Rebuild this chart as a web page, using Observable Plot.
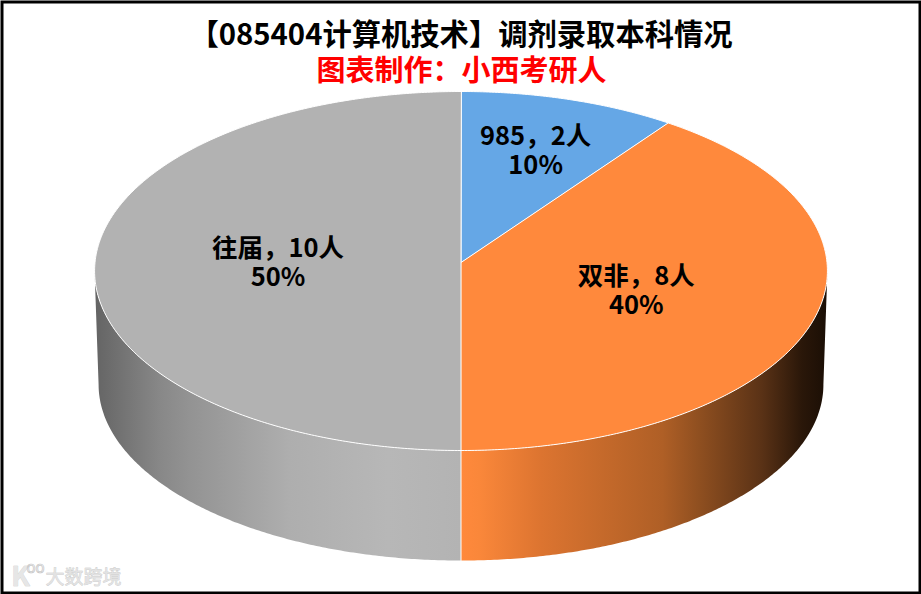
<!DOCTYPE html>
<html><head><meta charset="utf-8">
<script src="https://cdn.jsdelivr.net/npm/d3@7"></script>
<script src="https://cdn.jsdelivr.net/npm/@observablehq/plot@0.6"></script>
<style>html,body{margin:0;padding:0;background:#fff}svg{display:block}</style>
</head><body><div id="chart"></div>
<script>
const titleText = "【085404计算机技术】调剂录取本科情况";
const subtitleText = "图表制作\uFF1A小西考研人";
const categories = ["985", "双非", "往届"];
const counts = [2, 8, 10];
const percents = ["10%", "40%", "50%"];
const topColors = ["#65a7e6", "#ff893c", "#b2b2b2"];
const watermark = "大数跨境";

const W = 921, H = 594, FONT = '"Noto Sans CJK SC","Noto Sans",sans-serif';
const total = d3.sum(counts);
const k = -0.0474;
const TOP = {cx: 460.5, cy: 262, a: 366, b: 179.1};
const BOT = {cx: 460.5, cy: 375.7, a: 362, b: 175.6};
function proj(deg, f, e) {
  const t = deg * Math.PI / 180, u = f * Math.sin(t), v = -f * Math.cos(t), d = 1 + k * v;
  return {x: e.cx + e.a * u / d, y: e.cy + e.b * v / d};
}
function arc(a0, a1, e) {
  const n = Math.max(2, Math.ceil(Math.abs(a1 - a0) * 2)), p = [];
  for (let i = 0; i <= n; i++) p.push(proj(a0 + (a1 - a0) * i / n, 1, e));
  return p;
}
let acc = 0;
const slices = categories.map((c, i) => {
  const a0 = acc / total * 360; acc += counts[i];
  const a1 = acc / total * 360;
  return {c, a0, a1, mid: (a0 + a1) / 2, fill: topColors[i], count: counts[i], pct: percents[i]};
});
const labelReach = [0.68, 0.5, 0.5];
const labels = slices.map((s, i) => ({...proj(s.mid, labelReach[i], TOP), text: `${s.c}\uFF0C${s.count}人\n${s.pct}`}));
const SIL = 92.7;
const wallOrange = [...arc(SIL, 180, TOP), ...arc(180, SIL, BOT)];
const wallGray = [...arc(180, 360 - SIL, TOP), ...arc(360 - SIL, 180, BOT)];
const seam = [proj(180, 1, TOP), proj(180, 1, BOT)];

function stops(id, list) {
  const g = document.createElementNS("http://www.w3.org/2000/svg", "linearGradient");
  g.setAttribute("id", id);
  for (const [o, c] of list) {
    const s = document.createElementNS("http://www.w3.org/2000/svg", "stop");
    s.setAttribute("offset", o); s.setAttribute("stop-color", c); g.appendChild(s);
  }
  return g;
}
const defs = () => {
  const d = document.createElementNS("http://www.w3.org/2000/svg", "defs");
  d.appendChild(stops("wallO", [[0, "#ff893c"], [0.05, "#fa873a"], [0.22, "#dc7430"], [0.38, "#c66a2b"], [0.55, "#af5f26"], [0.65, "#8f4f20"], [0.82, "#5a3216"], [0.93, "#2a1709"], [1, "#1a0e05"]]));
  d.appendChild(stops("wallG", [[0, "#646464"], [0.03, "#6a6a6a"], [0.08, "#747474"], [0.18, "#888888"], [0.26, "#939393"], [0.53, "#aeaeae"], [0.8, "#b7b7b7"], [1, "#b3b3b3"]]));
  return d;
};

const common = {x: "x", y: "y"};
const marks = [
  defs,
  Plot.line(wallOrange, {...common, curve: "linear-closed", fill: "url(#wallO)", stroke: "none"}),
  Plot.line(wallGray, {...common, curve: "linear-closed", fill: "url(#wallG)", stroke: "none"}),
  Plot.line(seam, {...common, stroke: "#fff", strokeWidth: 1}),
  ...slices.map(s => Plot.line(
    [proj(0, 0, TOP), ...arc(s.a0, s.a1, TOP)],
    {...common, curve: "linear-closed", fill: s.fill, stroke: "#fff", strokeWidth: 1, strokeLinejoin: "round"}
  )),
  Plot.text(labels, {...common, text: "text", fill: "#000", fontSize: 25.5, fontWeight: 700, lineHeight: 1.14, fontFamily: FONT}),
  Plot.text([titleText], {x: () => 460.5, y: () => 35, fill: "#000", text: d => d, fontSize: 29.3, fontWeight: 700, fontFamily: FONT}),
  Plot.text([subtitleText], {x: () => 461, y: () => 71, fill: "#ff0000", text: d => d, fontSize: 29, fontWeight: 700, fontFamily: FONT}),
  Plot.text([watermark], {x: () => 83, y: () => 577, fill: "#e2e2e2", stroke: "#bdbdbd", strokeWidth: 0.5, text: d => d, fontSize: 19, fontFamily: FONT}),
  Plot.text(["K"], {x: () => 20, y: () => 577, fill: "#e6e6e6", stroke: "#c4c4c4", strokeWidth: 0.5, text: d => d, fontSize: 27, fontWeight: 700, fontFamily: FONT}),
  Plot.text(["oo"], {x: () => 35, y: () => 568, fill: "none", stroke: "#c4c4c4", strokeWidth: 0.7, text: d => d, fontSize: 15, fontFamily: FONT}),
  Plot.frame({stroke: "#000", strokeWidth: 3, inset: 1.5})
];
const chart = Plot.plot({
  width: W, height: H, margin: 0,
  x: {domain: [0, W], range: [0, W], axis: null},
  y: {domain: [0, H], range: [0, H], axis: null},
  style: {background: "#fff"},
  marks
});
document.getElementById("chart").appendChild(chart);
</script></body></html>
